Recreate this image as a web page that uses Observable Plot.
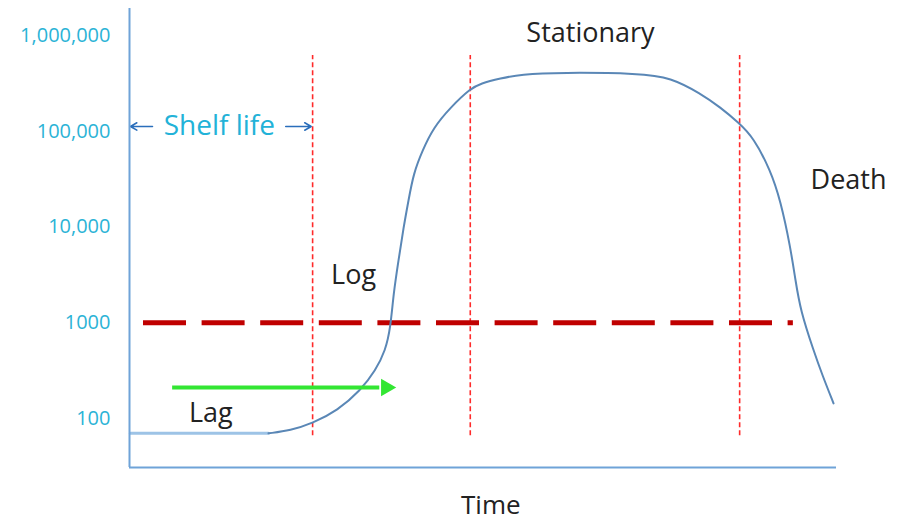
<!DOCTYPE html>
<html>
<head>
<meta charset="utf-8">
<script src="https://cdn.jsdelivr.net/npm/d3@7"></script>
<script src="https://cdn.jsdelivr.net/npm/@observablehq/plot@0.6"></script>
<style>
  html, body { margin: 0; padding: 0; background: #fff; }
  #chart svg { display: block; }
</style>
</head>
<body>
<div id="chart"></div>
<script>
// Growth curve (time in arbitrary units 0-100, count on log scale)
const curveTime  = [19.66, 22.77, 25.88, 29.42, 32.67, 34.79, 36.21, 36.92, 37.34, 38.05, 38.76, 39.46, 40.17, 41.44, 43.0, 45.4, 48.23, 49.65, 52.47, 55.3, 60.96, 72.28, 76.52, 80.76, 83.59, 86.14, 88.26, 90.66, 92.08, 93.49, 94.2, 94.91, 96.75, 98.02, 99.58];
const curveCount = [70, 75, 89, 121, 196, 317, 513, 891, 2020, 4470, 9890, 18900, 36200, 63000, 109000, 177000, 279000, 315000, 356000, 392000, 411000, 401000, 364000, 248000, 177000, 123000, 86000, 38900, 18900, 6110, 2760, 1340, 513, 281, 144];

// Lag baseline
const lagTime  = [0.14, 19.66];
const lagCount = [70, 70];

// Phase boundaries (vertical red dashed lines)
const phaseTimes = [25.9, 48.2, 86.3];
const phaseTop = 618000, phaseBottom = 66;

// Threshold (1000)
const thresholdValue = 1000;
const thresholdStart = 1.98, thresholdEnd = 93.9;

// Green lag arrow
const lagArrow = {x1: 6.1, x2: 35.4, y: 211, head: 36.3};

// Shelf life arrows
const shelfArrows = [
  {x1: 3.25, x2: 0.14, y: 112000},
  {x1: 22.1, x2: 25.7, y: 112000}
];

// Y ticks
const yTicks = [100, 1000, 10000, 100000, 1000000];
const yTickLabels = ["100", "1000", "10,000", "100,000", "1,000,000"];

// Phase labels
const labels = [
  {text: "Stationary", t: 65.2, n: 1050000},
  {text: "Log", t: 31.7, n: 3110},
  {text: "Lag", t: 11.5, n: 113},
  {text: "Death", t: 101.7, n: 30600}
];
const shelfLabel = {text: "Shelf life", t: 12.7, n: 112000};
const xLabel = {text: "Time", t: 51.1};

const curve = curveTime.map((t, i) => ({t, n: curveCount[i]}));
const lag = lagTime.map((t, i) => ({t, n: lagCount[i]}));

const chart = Plot.plot({
  width: 912,
  height: 522,
  marginLeft: 129,
  marginRight: 76,
  marginTop: 8,
  marginBottom: 55,
  style: {fontFamily: "'Open Sans', sans-serif", background: "#fff"},
  x: {domain: [0, 100], axis: null},
  y: {type: "log", domain: [30.8, 1910000], axis: null},
  marks: [
    Plot.axisY({
      ticks: yTicks,
      tickFormat: (d) => yTickLabels[yTicks.indexOf(d)],
      tickSize: 0,
      tickPadding: 19,
      fontSize: 20,
      fill: "#2bb3d6",
      label: null
    }),
    // vertical phase lines
    Plot.ruleX(phaseTimes, {y1: phaseBottom, y2: phaseTop, stroke: "#ff2a2a", strokeWidth: 1.6, strokeDasharray: "5,3"}),
    // threshold
    Plot.ruleY([thresholdValue], {x1: thresholdStart, x2: thresholdEnd, stroke: "#c00000", strokeWidth: 5, strokeDasharray: "43,15.6"}),
    // lag baseline
    Plot.line(lag, {x: "t", y: "n", stroke: "#9dc3e6", strokeWidth: 3}),
    // growth curve
    Plot.line(curve, {x: "t", y: "n", stroke: "#5a87b6", strokeWidth: 2, curve: "basis"}),
    // green arrow
    Plot.ruleY([lagArrow], {x1: "x1", x2: "x2", y: "y", stroke: "#33e633", strokeWidth: 4}),
    Plot.dot([lagArrow], {x: "head", y: "y", symbol: "triangle", rotate: 90, r: 6.5, fill: "#33e633", stroke: "none"}),
    // shelf life arrows
    Plot.arrow(shelfArrows, {x1: "x1", x2: "x2", y1: "y", y2: "y", stroke: "#2a6ebb", strokeWidth: 1.6, headLength: 7}),
    Plot.text([shelfLabel], {x: "t", y: "n", text: "text", fontSize: 28, fill: "#22b2d8"}),
    // axes lines
    Plot.ruleX([0], {stroke: "#6fa3d8", strokeWidth: 2}),
    Plot.ruleY([30.8], {stroke: "#6fa3d8", strokeWidth: 2}),
    // phase labels
    Plot.text(labels, {x: "t", y: "n", text: "text", fontSize: 27, fill: "#222"}),
    Plot.text([xLabel], {x: "t", frameAnchor: "bottom", lineAnchor: "middle", dy: 38, text: "text", fontSize: 26, fill: "#222"})
  ]
});
document.getElementById("chart").appendChild(chart);
</script>
</body>
</html>
